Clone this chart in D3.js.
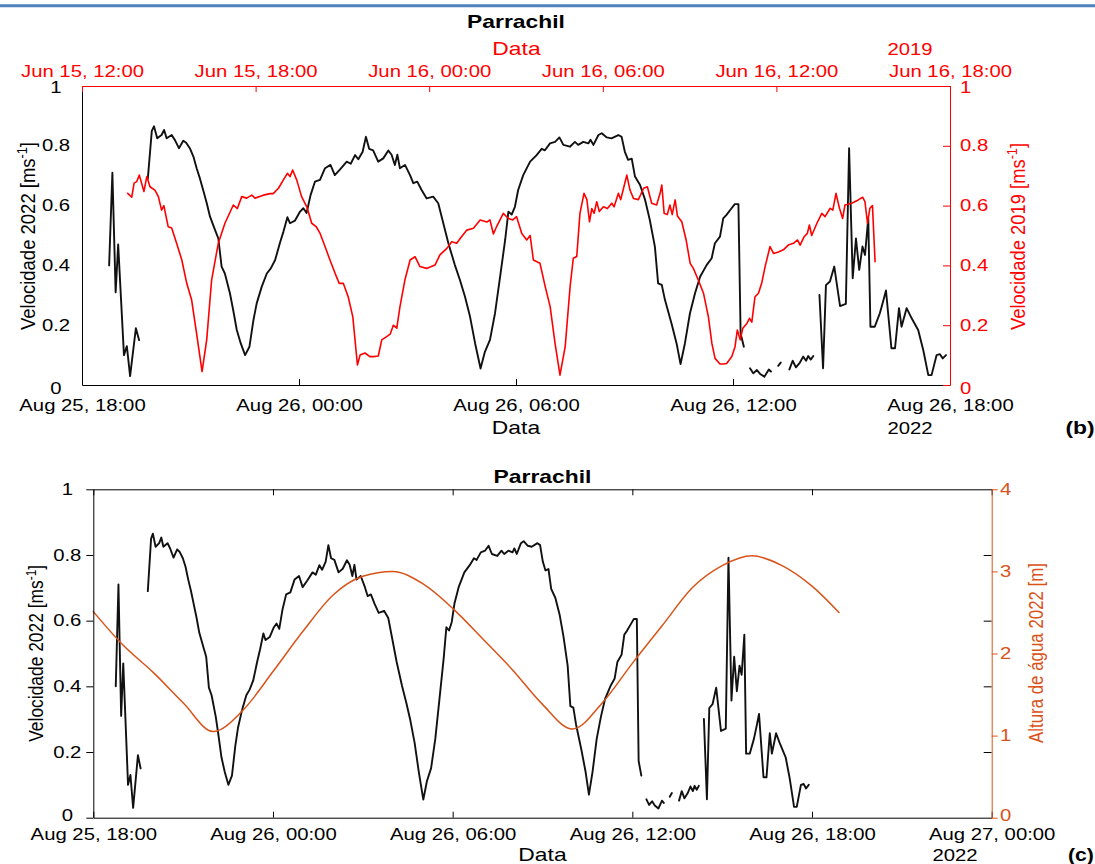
<!DOCTYPE html>
<html>
<head>
<meta charset="utf-8">
<script src="https://cdn.jsdelivr.net/npm/d3@7"></script>
<style>
  body { margin: 0; background: #fff; }
  svg { display: block; }
  text { font-family: "Liberation Sans", Arial, Helvetica, sans-serif; }
</style>
</head>
<body>
<svg id="fig" width="1095" height="864"></svg>
<script>
// ---- Parrachil current speed 2022 (hours after Aug 25, 18:00); null = gap in record
const vel2022Hours = [
  0.75, 0.84, 0.93, 1.00, 1.16, 1.24, 1.33, 1.49, 1.58, null,
  1.82, 1.93, 1.99, 2.08, 2.20, 2.27, 2.34, 2.48, 2.57, 2.68, 2.80, 2.88, 2.99, 3.08, 3.17, 3.26,
  3.35, 3.45, 3.54, 3.68, 3.77, 3.86, 3.95, 4.09, 4.18, 4.28, 4.39, 4.51, 4.63, 4.74, 4.83, 4.97,
  5.11, 5.22, 5.34, 5.47, 5.57, 5.68, 5.75, 5.89, 6.03, 6.12, 6.21, 6.32, 6.44, 6.58, 6.72, 6.87,
  6.99, 7.13, 7.32, 7.43, 7.55, 7.64, 7.76, 7.85, 7.94, 8.05, 8.19, 8.33, 8.47, 8.56, 8.65, 8.72,
  8.79, 8.93, 9.07, 9.16, 9.27, 9.39, 9.53, 9.71, 9.85, 9.99, 10.13, 10.31, 10.45, 10.59, 10.73,
  10.87, 11.02, 11.14, 11.28, 11.42, 11.56, 11.70, 11.79, 11.88, 11.97, 12.06, 12.20, 12.39,
  12.57, 12.71, 12.80, 12.94, 13.08, 13.20, 13.31, 13.49, 13.63, 13.72, 13.86, 14.00, 14.06,
  14.14, 14.28, 14.37, 14.51, 14.64, 14.83, 14.92, 15.01, 15.10, 15.20, 15.29, 15.43, 15.57,
  15.70, 15.84, 15.93, 16.03, 16.12, 16.30, 16.44, 16.55, 16.67, 16.81, 16.95, 17.09, 17.27,
  17.41, 17.50, 17.64, 17.73, 17.82, 17.96, 18.05, 18.15, 18.21, 18.30, null,
  18.47, 18.56, 18.66, 18.75, 18.87, 18.99, 19.05, null,
  19.25, 19.32, null,
  19.56, 19.65, 19.74, 19.85, 19.94, 20.02, 20.08, 20.15, 20.22, null,
  20.39, 20.49, 20.57, 20.68, 20.80, 20.96, 21.12, 21.21, 21.31, 21.40, 21.49, 21.58, 21.65,
  21.74, 21.80, 21.92, 22.06, 22.15, 22.23, 22.38, 22.48, 22.59, 22.66, 22.80, 22.94, 23.12,
  23.26, 23.40, 23.49, 23.63, 23.72, 23.80, 23.89
];
const vel2022 = [
  0.40, 0.71, 0.31, 0.47, 0.10, 0.13, 0.03, 0.19, 0.15, null,
  0.69, 0.85, 0.865, 0.825, 0.836, 0.853, 0.825, 0.836, 0.819, 0.792, 0.817, 0.81, 0.79, 0.764, 0.725, 0.691,
  0.652, 0.608, 0.563, 0.518, 0.49, 0.396, 0.373, 0.307, 0.251, 0.184, 0.139, 0.10, 0.128, 0.217, 0.273, 0.329,
  0.373, 0.39, 0.418, 0.474, 0.513, 0.561, 0.541, 0.55, 0.58, 0.591, 0.575, 0.635, 0.68, 0.686, 0.725, 0.736,
  0.702, 0.72, 0.747, 0.74, 0.769, 0.755, 0.78, 0.83, 0.79, 0.785, 0.747, 0.758, 0.784, 0.77, 0.736, 0.77,
  0.725, 0.736, 0.702, 0.675, 0.68, 0.652, 0.624, 0.63, 0.608, 0.541, 0.474, 0.401, 0.351, 0.295, 0.228,
  0.139, 0.055, 0.111, 0.151, 0.24, 0.362, 0.485, 0.58, 0.57, 0.596, 0.652, 0.702, 0.747,
  0.769, 0.79, 0.785, 0.808, 0.813, 0.828, 0.803, 0.797, 0.813, 0.803, 0.813, 0.808, 0.82,
  0.803, 0.836, 0.842, 0.828, 0.825, 0.836, 0.83, 0.78, 0.753, 0.757, 0.697, 0.669, 0.619,
  0.552, 0.463, 0.34, 0.335, 0.284, 0.206, 0.139, 0.07, 0.139, 0.24, 0.307, 0.362, 0.401,
  0.424, 0.474, 0.496, 0.557, 0.569, 0.591, 0.605, 0.605, 0.173, 0.128, null,
  0.056, 0.039, 0.05, 0.037, 0.028, 0.052, 0.045, null,
  0.064, 0.075, null,
  0.052, 0.081, 0.059, 0.075, 0.095, 0.081, 0.097, 0.085, 0.097, null,
  0.301, 0.056, 0.334, 0.346, 0.396, 0.264, 0.271, 0.792, 0.357, 0.49, 0.385, 0.463, 0.435,
  0.557, 0.195, 0.195, 0.24, 0.279, 0.316, 0.123, 0.123, 0.257, 0.195, 0.257, 0.223, 0.184,
  0.117, 0.033, 0.033, 0.10, 0.103, 0.089, 0.10
];

// ---- Parrachil current speed 2019 (hours after Jun 15, 12:00)
const vel2019Hours = [
  1.58, 1.72, 1.80, 1.89, 1.98, 2.06, 2.14, 2.24, 2.35, 2.52, 2.64, 2.75, 2.83, 2.98, 3.10, 3.27,
  3.45, 3.62, 3.79, 3.96, 4.15, 4.31, 4.48, 4.71, 4.94, 5.23, 5.37, 5.52, 5.69, 5.87, 5.98, 6.27,
  6.50, 6.61, 6.79, 6.96, 7.10, 7.19, 7.28, 7.42, 7.59, 7.77, 7.94, 8.09, 8.23, 8.40, 8.57, 8.75,
  8.89, 9.03, 9.20, 9.36, 9.52, 9.61, 9.78, 9.95, 10.07, 10.24, 10.36, 10.53, 10.65, 10.76, 10.88,
  10.99, 11.16, 11.34, 11.51, 11.68, 11.91, 12.20, 12.37, 12.61, 12.78, 12.95, 13.07, 13.30, 13.53,
  13.76, 13.99, 14.10, 14.22, 14.33, 14.56, 14.74, 14.89, 15.02, 15.20, 15.37, 15.49, 15.60, 15.83,
  16.01, 16.18, 16.35, 16.52, 16.70, 16.87, 16.98, 17.10, 17.21, 17.35, 17.45, 17.54, 17.62, 17.70,
  17.79, 17.88, 18.02, 18.16, 18.31, 18.39, 18.54, 18.62, 18.73, 18.83, 18.94, 19.06, 19.23, 19.41,
  19.54, 19.69, 19.86, 19.98, 20.04, 20.12, 20.23, 20.32, 20.40, 20.50, 20.58, 20.73, 20.88, 21.02,
  21.13, 21.30, 21.48, 21.65, 21.77, 21.88, 22.05, 22.17, 22.28, 22.46, 22.57, 22.65, 22.75, 22.84,
  22.98, 23.07, 23.15, 23.26, 23.38, 23.49, 23.61, 23.78, 23.90, 24.07, 24.24, 24.41, 24.59, 24.73,
  24.82, 24.96, 25.07, 25.14, 25.22, 25.40, 25.57, 25.68, 25.86, 25.95, 26.06, 26.18, 26.29, 26.37,
  26.60, 26.83, 26.98, 27.06, 27.15, 27.23, 27.32, 27.41
];
const vel2019 = [
  0.641, 0.628, 0.675, 0.68, 0.702, 0.675, 0.647, 0.697, 0.663, 0.652, 0.63, 0.585, 0.60, 0.529, 0.525, 0.474,
  0.418, 0.34, 0.284, 0.173, 0.045, 0.151, 0.351, 0.474, 0.541, 0.602, 0.59, 0.63, 0.625, 0.635, 0.625, 0.635,
  0.64, 0.64, 0.658, 0.686, 0.708, 0.697, 0.719, 0.686, 0.63, 0.596, 0.541, 0.53, 0.507, 0.463, 0.418, 0.373,
  0.34, 0.34, 0.295, 0.228, 0.067, 0.10, 0.107, 0.095, 0.095, 0.097, 0.151, 0.162, 0.17, 0.20, 0.19,
  0.262, 0.351, 0.418, 0.429, 0.396, 0.39, 0.401, 0.435, 0.457, 0.479, 0.474, 0.49, 0.518, 0.524,
  0.552, 0.545, 0.552, 0.505, 0.53, 0.574, 0.557, 0.552, 0.563, 0.507, 0.485, 0.50, 0.418, 0.407,
  0.329, 0.262, 0.139, 0.033, 0.128, 0.329, 0.424, 0.43, 0.574, 0.641, 0.62, 0.546, 0.59, 0.574,
  0.613, 0.58, 0.596, 0.59, 0.608, 0.596, 0.641, 0.62, 0.663, 0.702, 0.652, 0.624, 0.62, 0.658,
  0.663, 0.608, 0.602, 0.641, 0.669, 0.574, 0.57, 0.602, 0.57, 0.619, 0.565, 0.546, 0.485, 0.407,
  0.39, 0.351, 0.307, 0.228, 0.139, 0.089, 0.07, 0.07, 0.072, 0.095, 0.128, 0.184, 0.151, 0.19,
  0.206, 0.223, 0.21, 0.295, 0.307, 0.34, 0.396, 0.463, 0.44, 0.445, 0.452, 0.468, 0.474, 0.485,
  0.468, 0.496, 0.507, 0.535, 0.50, 0.541, 0.574, 0.563, 0.591, 0.585, 0.641, 0.591, 0.557, 0.602,
  0.608, 0.619, 0.628, 0.613, 0.541, 0.591, 0.60, 0.412
];

// ---- Water level 2022 (hours after Aug 25, 18:00)
const levelHours = [0, 1, 2, 3, 4, 5, 6, 7, 8, 9, 10, 11, 12, 13, 14, 15, 16, 17, 18, 19, 20, 21, 22, 23, 24, 24.9];
const level2022 = [2.51, 2.10, 1.77, 1.40, 1.05, 1.31, 1.78, 2.27, 2.71, 2.94, 3.00, 2.85, 2.55, 2.18, 1.80,
                   1.38, 1.08, 1.40, 1.88, 2.34, 2.80, 3.07, 3.19, 3.07, 2.82, 2.50];

// ---- Axis ticks
const speedTicks = [0, 0.2, 0.4, 0.6, 0.8, 1];
const levelTicks = [0, 1, 2, 3, 4];

// ---------------------------------------------------------------
const HOUR = 3600e3;
const start2022 = Date.UTC(2022, 7, 25, 18);
const start2019 = Date.UTC(2019, 5, 15, 12);
const at = (base, h) => new Date(base + h * HOUR);

const RED = "#ff0000", ORANGE = "#d95319", INK = "#000000";
const FONT = '"Liberation Sans", Arial, Helvetica, sans-serif';
const SX = 1.27;            // horizontal stretch of the lettering
const fmt = d3.utcFormat("%b %d, %H:%M");
const every6h = d3.utcHour.every(6);

const svg = d3.select("#fig");

// page rule at the very top
svg.append("line").attr("x1", 0).attr("x2", 1095).attr("y1", 5.7).attr("y2", 5.7)
  .attr("stroke", "#4f81bd").attr("stroke-width", 3);

function label(x, y, s, o = {}) {
  return svg.append("text")
    .attr("transform", `translate(${x},${y}) scale(${o.sx || SX},1)`)
    .attr("text-anchor", o.anchor || "middle")
    .attr("font-size", o.size || 16)
    .attr("font-weight", o.weight || "normal")
    .attr("fill", o.fill || INK)
    .text(s);
}

function yTitle(x, y, main, sup, tail, len, fill) {
  const t = svg.append("text")
    .attr("transform", `translate(${x},${y}) rotate(-90) scale(1,1.3)`)
    .attr("text-anchor", "middle").attr("font-size", 16).attr("fill", fill)
    .attr("textLength", len).attr("lengthAdjust", "spacingAndGlyphs");
  t.append("tspan").text(main);
  if (sup) {
    t.append("tspan").attr("dy", -6).attr("font-size", 11).text(sup);
    t.append("tspan").attr("dy", 6).text(tail);
  }
  return t;
}

function styleAxis(g, color) {
  g.attr("font-family", FONT).attr("font-size", 16).attr("color", color);
  g.selectAll(".tick line").attr("stroke-width", 1);
  g.select(".domain").attr("stroke-width", 1);
}

function drawSeries(hours, values, base, xScale, yScale, color, width, curve) {
  const gen = d3.line()
    .defined(i => hours[i] != null && values[i] != null)
    .x(i => xScale(at(base, hours[i])))
    .y(i => yScale(values[i]))
    .curve(curve || d3.curveLinear);
  svg.append("path")
    .datum(d3.range(hours.length))
    .attr("d", gen)
    .attr("fill", "none").attr("stroke", color).attr("stroke-width", width)
    .attr("stroke-linejoin", "round").attr("stroke-linecap", "round");
}

// ================= Panel (b): 2022 vs 2019 speeds =================
const B = { left: 82, right: 950, top: 86, bottom: 385 };
const xB = d3.scaleUtc().domain([at(start2022, 0), at(start2022, 24)]).range([B.left, B.right]);
const xB19 = d3.scaleUtc().domain([at(start2019, 0), at(start2019, 30)]).range([B.left, B.right]);
const yB = d3.scaleLinear().domain([0, 1]).range([B.bottom, B.top]);

drawSeries(vel2022Hours, vel2022, start2022, xB, yB, "#111", 1.9);
drawSeries(vel2019Hours, vel2019, start2019, xB19, yB, RED, 1.6);

// bottom (2022) axis
const gBb = svg.append("g").attr("transform", `translate(0,${B.bottom})`)
  .call(d3.axisBottom(xB).ticks(every6h).tickFormat(fmt).tickSizeInner(-6).tickSizeOuter(0));
styleAxis(gBb, INK);
gBb.selectAll(".tick text").attr("y", 25.7).attr("dy", null).attr("transform", `scale(${SX},1)`);

// left axis
const gBl = svg.append("g").attr("transform", `translate(${B.left},0)`)
  .call(d3.axisLeft(yB).tickValues(speedTicks).tickFormat(d3.format("~g")).tickSizeInner(0).tickSizeOuter(0));
styleAxis(gBl, INK);
gBl.selectAll(".tick text").attr("x", -26 / SX).attr("text-anchor", "middle")
  .attr("dy", d => d === 0 ? "0.55em" : d === 1 ? "0.42em" : "0.32em")
  .attr("transform", `scale(${SX},1)`);

// top (2019) axis
const gBt = svg.append("g").attr("transform", `translate(0,${B.top})`)
  .call(d3.axisTop(xB19).ticks(every6h).tickFormat(fmt).tickSizeInner(-6).tickSizeOuter(0));
styleAxis(gBt, RED);
gBt.selectAll(".tick text").attr("y", -9.3).attr("dy", null).attr("transform", `scale(${SX},1)`);

// right (2019) axis
const gBr = svg.append("g").attr("transform", `translate(${B.right},0)`)
  .call(d3.axisRight(yB).tickValues(speedTicks).tickFormat(d3.format("~g")).tickSizeInner(-7).tickSizeOuter(0));
styleAxis(gBr, RED);
gBr.selectAll(".tick text").attr("x", 10 / SX).attr("text-anchor", "start")
  .attr("dy", d => d === 0 ? "0.55em" : d === 1 ? "0.42em" : "0.32em")
  .attr("transform", `scale(${SX},1)`);

label(516, 28, "Parrachil", { size: 18, weight: "bold" });
label(516.5, 55, "Data", { size: 18, fill: RED });
label(910, 55, "2019", { fill: RED });
label(516, 434, "Data", { size: 18 });
label(910, 434, "2022");
label(1080, 434, "(b)", { size: 18, weight: "bold" });
yTitle(35, 236, "Velocidade 2022 [ms", "-1", "]", 188, INK);
yTitle(1025, 236.5, "Velocidade 2019 [ms", "-1", "]", 187, RED);

// ================= Panel (c): 2022 speed and water level =================
const C = { left: 93.3, right: 991.7, top: 489.3, bottom: 817.7 };
const xC = d3.scaleUtc().domain([at(start2022, 0), at(start2022, 30)]).range([C.left, C.right]);
const yC = d3.scaleLinear().domain([0, 1]).range([C.bottom, C.top]);
const yLevel = d3.scaleLinear().domain([0, 4]).range([C.bottom, C.top]);

drawSeries(vel2022Hours, vel2022, start2022, xC, yC, "#111", 1.9);
drawSeries(levelHours, level2022, start2022, xC, yLevel, ORANGE, 1.5, d3.curveMonotoneX);

// bottom axis
const gCb = svg.append("g").attr("transform", `translate(0,${C.bottom})`)
  .call(d3.axisBottom(xC).ticks(every6h).tickFormat(fmt).tickSizeInner(-6).tickSizeOuter(0));
styleAxis(gCb, INK);
gCb.selectAll(".tick text").attr("y", 22).attr("dy", null).attr("transform", `scale(${SX},1)`);

// top frame with ticks only
const gCt = svg.append("g").attr("transform", `translate(0,${C.top})`)
  .call(d3.axisTop(xC).ticks(every6h).tickFormat("").tickSizeInner(-6).tickSizeOuter(0));
styleAxis(gCt, INK);

// left speed axis
const gCl = svg.append("g").attr("transform", `translate(${C.left},0)`)
  .call(d3.axisLeft(yC).tickValues(speedTicks).tickFormat(d3.format("~g")).tickSizeInner(7).tickSizeOuter(0));
styleAxis(gCl, INK);
gCl.selectAll(".tick text").attr("x", -26 / SX).attr("text-anchor", "middle")
  .attr("dy", d => d === 0 ? "0.2em" : "0.32em")
  .attr("transform", `scale(${SX},1)`);

// speed ticks repeated inside the right edge
const gCm = svg.append("g").attr("transform", `translate(${C.right},0)`)
  .call(d3.axisRight(yC).tickValues(speedTicks.slice(1, -1)).tickFormat("").tickSizeInner(-8).tickSizeOuter(0));
styleAxis(gCm, INK);
gCm.select(".domain").remove();

// right water-level axis
const gCr = svg.append("g").attr("transform", `translate(${C.right},0)`)
  .call(d3.axisRight(yLevel).tickValues(levelTicks).tickFormat(d3.format("d")).tickSizeInner(6).tickSizeOuter(0));
styleAxis(gCr, ORANGE);
gCr.selectAll(".tick text").attr("x", 8.3 / SX).attr("text-anchor", "start")
  .attr("dy", d => d === 0 ? "0.2em" : "0.32em")
  .attr("transform", `scale(${SX},1)`);

label(542.5, 482.7, "Parrachil", { size: 18, weight: "bold" });
label(542.5, 861, "Data", { size: 18 });
label(955, 861, "2022");
label(1068, 861, "(c)", { size: 18, weight: "bold", anchor: "start", sx: 1.18 });
yTitle(43.3, 653.3, "Velocidade 2022 [ms", "-1", "]", 177, INK);
yTitle(1042.7, 653, "Altura de água 2022 [m]", null, null, 180, ORANGE);
</script>
</body>
</html>
